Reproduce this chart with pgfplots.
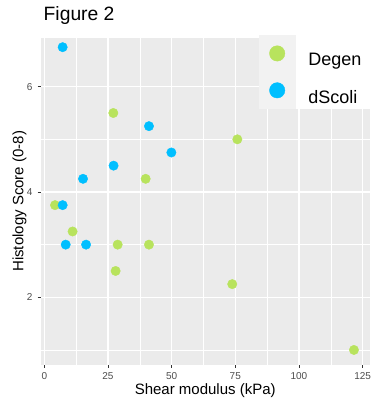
\documentclass[border=0pt]{standalone}
\usepackage{pgfplots}
\pgfplotsset{compat=1.18}
\usepackage{fontspec}
\setmainfont{Liberation Sans}
\definecolor{panel}{HTML}{EBEBEB}
\definecolor{keygrey}{HTML}{F2F2F2}
\definecolor{degen}{HTML}{B8E35D}
\definecolor{dscoli}{HTML}{00BFFF}
\definecolor{ticktext}{HTML}{4D4D4D}
\definecolor{tickmark}{HTML}{333333}
\begin{document}
\begin{tikzpicture}[x=1pt,y=1pt]
\path[use as bounding box, fill=white] (0,0) rectangle (373,-402);
\begin{axis}[
  at={(40.5pt,-365pt)}, anchor=south west,
  scale only axis, width=329.5pt, height=327.3pt,
  xmin=-1.5, xmax=127.9, ymin=0.714, ymax=6.93,
  axis background/.style={fill=panel},
  axis x line*=bottom, axis y line*=left,
  axis line style={draw=none},
  xtick={0,25,50,75,100,125}, ytick={2,4,6},
  minor xtick={12.5,37.5,62.5,87.5,112.5}, minor ytick={1,3,5},
  grid=both,
  major grid style={white, line width=1.1pt},
  minor grid style={white, line width=0.55pt},
  tick align=outside, major tick length=2.75pt, minor tick length=0pt,
  tick style={tickmark, line width=0.55pt},
  /pgf/number format/assume math mode=true,
  ticklabel style={font=\fontsize{10}{12}\selectfont, text=ticktext, inner sep=0pt},
  xticklabel style={anchor=north, yshift=-5pt},
  yticklabel style={anchor=east, xshift=-5pt},
  xlabel={Shear modulus (kPa)},
  xlabel style={at={(axis description cs:0.5,-0.0886)}, anchor=base, font=\fontsize{15}{18}\selectfont, inner sep=0pt},
  ylabel={Histology Score (0-8)},
  ylabel style={at={(axis description cs:-0.0516,0.5)}, anchor=base, font=\fontsize{15}{18}\selectfont, inner sep=0pt},
  title={Figure 2},
  title style={at={(axis description cs:0.0091,1.0327)}, anchor=base west, font=\fontsize{19.3}{22}\selectfont, inner sep=0pt},
  legend style={at={(axis description cs:0.6631,1.0083)}, anchor=north west, fill=white, draw=none, inner sep=0pt, outer sep=0pt, row sep=0pt, column sep=13pt, nodes={inner sep=0pt, text width=65pt, font=\fontsize{18}{21}\selectfont, text=black}},
  legend cell align=left,
  legend image code/.code={
    \fill[keygrey] (-18pt,-11.25pt) rectangle (18pt,25.25pt);
    \fill (0pt,7pt) circle (7.7pt);
  },
]
\addplot[only marks, mark=*, color=degen, mark size=4.7pt, mark options={draw=none, fill=degen}] table {
x y
4.2 3.75
11.1 3.25
27.1 5.5
28.8 3.0
28.0 2.5
39.8 4.25
41.1 3.0
75.8 5.0
73.8 2.25
121.6 1.0
};
\addlegendentry{Degen}
\addplot[only marks, mark=*, color=dscoli, mark size=4.7pt, mark options={draw=none, fill=dscoli}] table {
x y
7.2 6.75
7.2 3.75
8.4 3.0
16.4 3.0
15.2 4.25
27.2 4.5
41.1 5.25
49.9 4.75
};
\addlegendentry{dScoli}
\end{axis}
\end{tikzpicture}
\end{document}
